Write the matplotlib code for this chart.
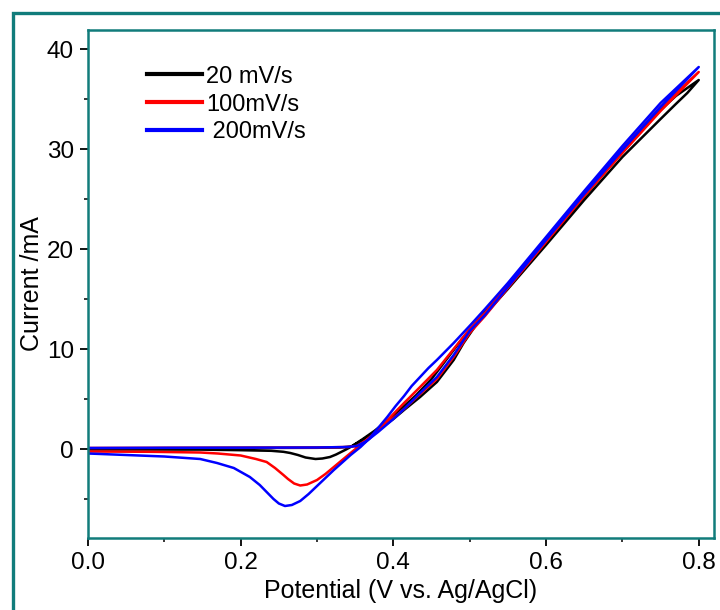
import matplotlib
matplotlib.use('Agg')
import matplotlib.pyplot as plt
from matplotlib.patches import Rectangle
from matplotlib.ticker import MultipleLocator

plt.rcParams['font.family'] = ['Liberation Sans', 'DejaVu Sans']

TEAL = '#117c7b'

# 20 mV/s
black_fwd_x = [0.0, 0.1, 0.2, 0.3, 0.33, 0.345, 0.36, 0.38, 0.40, 0.414, 0.435, 0.457, 0.479, 0.492, 0.51,
               0.55, 0.6, 0.65, 0.7, 0.75, 0.77, 0.785, 0.8]
black_fwd_y = [0.05, 0.08, 0.1, 0.12, 0.15, 0.25, 0.9, 1.9, 3.0, 3.9, 5.2, 6.7, 8.9, 10.6, 12.6,
               16.0, 20.4, 24.9, 29.2, 33.0, 34.5, 35.6, 36.9]
black_rev_x = [0.8, 0.77, 0.75, 0.7, 0.65, 0.6, 0.55, 0.51, 0.49, 0.47, 0.45, 0.43, 0.41, 0.39, 0.375,
               0.36, 0.344, 0.338, 0.325, 0.317, 0.307, 0.298, 0.285, 0.275, 0.265, 0.256, 0.24, 0.2,
               0.147, 0.05, 0.0]
black_rev_y = [36.9, 35.3, 33.9, 29.7, 25.3, 20.8, 16.3, 12.8, 11.0, 9.0, 7.0, 5.4, 4.0, 2.7, 1.8,
               1.0, 0.2, -0.05, -0.55, -0.8, -0.95, -1.0, -0.85, -0.6, -0.4, -0.28, -0.18, -0.12,
               -0.06, -0.05, -0.05]

# 100 mV/s
red_fwd_x = [0.0, 0.1, 0.2, 0.3, 0.34, 0.352, 0.365, 0.38, 0.40, 0.414, 0.435, 0.457, 0.479, 0.50, 0.52,
             0.55, 0.6, 0.65, 0.7, 0.75, 0.8]
red_fwd_y = [0.1, 0.12, 0.13, 0.15, 0.2, 0.3, 0.9, 1.8, 3.1, 4.0, 5.5, 7.0, 9.2, 11.6, 13.3,
             16.1, 20.7, 25.3, 29.6, 33.8, 37.7]
red_rev_x = [0.8, 0.75, 0.7, 0.65, 0.6, 0.55, 0.52, 0.50, 0.479, 0.457, 0.435, 0.414, 0.40, 0.38, 0.365,
             0.352, 0.344, 0.333, 0.322, 0.311, 0.30, 0.287, 0.278, 0.27, 0.262, 0.256, 0.245, 0.234,
             0.22, 0.2, 0.17, 0.147, 0.08, 0.0]
red_rev_y = [37.7, 34.2, 30.0, 25.5, 21.0, 16.4, 13.6, 12.0, 10.0, 7.9, 6.2, 4.6, 3.5, 1.9, 0.9,
             0.1, -0.4, -1.1, -1.8, -2.5, -3.1, -3.55, -3.65, -3.45, -3.0, -2.6, -1.9, -1.3,
             -1.0, -0.65, -0.45, -0.35, -0.28, -0.25]

# 200 mV/s
blue_fwd_x = [0.0, 0.1, 0.2, 0.3, 0.34, 0.352, 0.365, 0.38, 0.40, 0.414, 0.435, 0.457, 0.479, 0.50, 0.52,
              0.55, 0.6, 0.65, 0.7, 0.75, 0.8]
blue_fwd_y = [0.1, 0.12, 0.13, 0.15, 0.2, 0.3, 0.8, 1.7, 3.0, 4.0, 5.6, 7.2, 9.4, 11.8, 13.4,
              16.2, 20.9, 25.5, 29.9, 34.2, 38.2]
blue_rev_x = [0.8, 0.75, 0.7, 0.65, 0.6, 0.55, 0.52, 0.501, 0.479, 0.457, 0.446, 0.435, 0.424, 0.414,
              0.403, 0.392, 0.38, 0.368,
              0.357, 0.344, 0.333, 0.322, 0.311, 0.30, 0.289, 0.278, 0.267, 0.258, 0.25, 0.243, 0.234,
              0.225, 0.212, 0.191, 0.169, 0.147, 0.1, 0.05, 0.0]
blue_rev_y = [38.2, 34.6, 30.3, 25.8, 21.2, 16.6, 14.0, 12.4, 10.6, 8.9, 8.1, 7.2, 6.3, 5.3,
              4.3, 3.2, 2.1, 1.0,
              0.2, -0.6, -1.35, -2.1, -2.9, -3.7, -4.5, -5.2, -5.6, -5.7, -5.45, -5.0, -4.3,
              -3.6, -2.8, -1.9, -1.4, -1.0, -0.75, -0.6, -0.45]

labels = ['20 mV/s', '100mV/s', ' 200mV/s']

fig = plt.figure(figsize=(7.2, 6.1), dpi=100)
ax = fig.add_axes([88 / 720, 72 / 610, 626 / 720, 508 / 610])

# outer frame of the figure
fig.patches.append(Rectangle((13 / 720, -0.05), 1.1, 1 - 13 / 610 + 0.05,
                             transform=fig.transFigure, fill=False,
                             edgecolor=TEAL, linewidth=2.4, zorder=0))

series = [
    (black_fwd_x, black_fwd_y, black_rev_x, black_rev_y, 'black'),
    (red_fwd_x, red_fwd_y, red_rev_x, red_rev_y, 'red'),
    (blue_fwd_x, blue_fwd_y, blue_rev_x, blue_rev_y, 'blue'),
]
for (fx, fy, rx, ry, c), lab in zip(series, labels):
    ax.plot(fx + rx, fy + ry, color=c, lw=1.8, label=lab, solid_joinstyle='round')

ax.set_xlim(0, 0.82)
ax.set_ylim(-8.9, 41.9)
ax.xaxis.set_major_locator(MultipleLocator(0.2))
ax.xaxis.set_minor_locator(MultipleLocator(0.1))
ax.yaxis.set_major_locator(MultipleLocator(10))
ax.yaxis.set_minor_locator(MultipleLocator(5))
ax.set_yticks([0, 10, 20, 30, 40])
ax.tick_params(which='major', direction='out', length=6, width=1.3, labelsize=17.5, pad=4)
ax.tick_params(which='minor', direction='out', length=3, width=1.1)
for s in ax.spines.values():
    s.set_color(TEAL)
    s.set_linewidth(1.8)

ax.set_xlabel('Potential (V vs. Ag/AgCl)', fontsize=18, labelpad=4)
ax.set_ylabel('Current /mA', fontsize=18, labelpad=2)

leg = ax.legend(loc='upper left', bbox_to_anchor=(0.075, 0.953), frameon=False,
                fontsize=17, handlelength=2.33, handletextpad=0.2, labelspacing=0.25,
                borderpad=0)
for h in leg.get_lines():
    h.set_linewidth(3)

fig.savefig('out.png', dpi=100)
